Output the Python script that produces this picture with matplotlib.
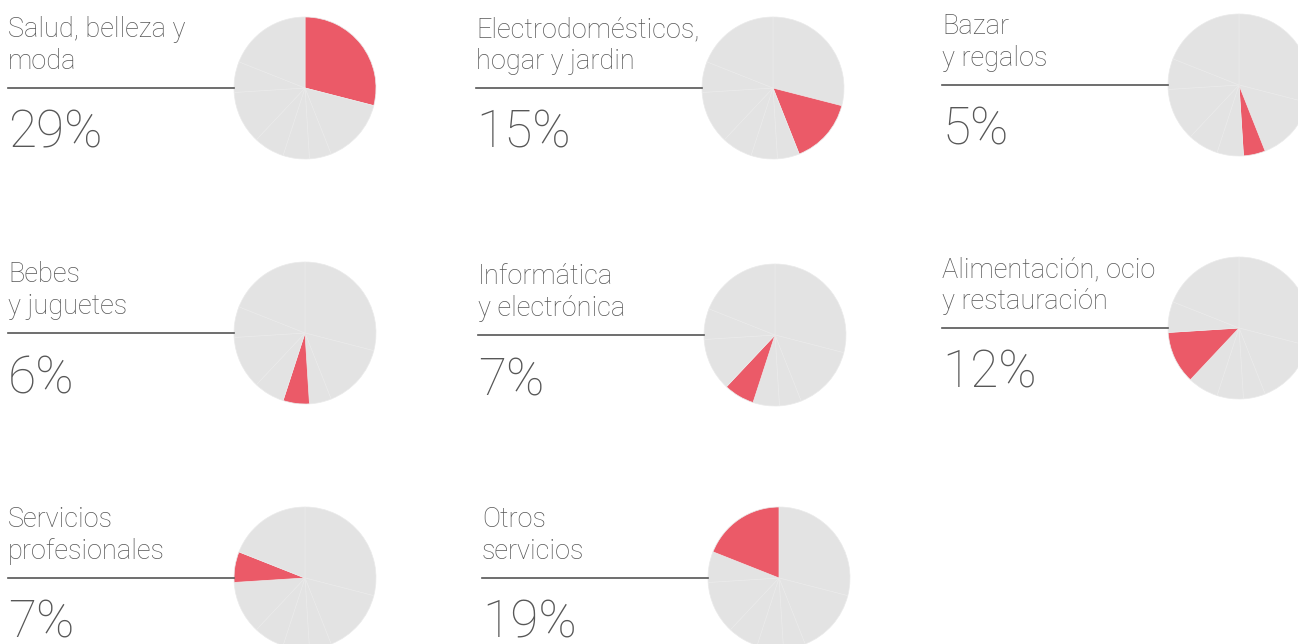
import matplotlib
matplotlib.use("Agg")
import matplotlib.pyplot as plt

# Data
categories = [
    "Salud, belleza y\nmoda",
    "Electrodomésticos,\nhogar y jardin",
    "Bazar\ny regalos",
    "Bebes\ny juguetes",
    "Informática\ny electrónica",
    "Alimentación, ocio\ny restauración",
    "Servicios\nprofesionales",
    "Otros\nservicios",
]
percentages = [29, 15, 5, 6, 7, 12, 7, 19]
pct_labels = ["29%", "15%", "5%", "6%", "7%", "12%", "7%", "19%"]

W, H = 1298, 644
DPI = 100
fig = plt.figure(figsize=(W / DPI, H / DPI), dpi=DPI)
fig.patch.set_facecolor("white")

RED = "#EB5A68"
GRAY = "#E3E3E3"
TXT = "#575757"
FONT = ["Roboto", "DejaVu Sans"]
PFONT = ["Roboto", "DejaVu Sans"]

# layout (pixel): text left x, line y, pie center x
layout = [
    (8, 88, 305), (476, 88, 773), (942, 85, 1239),
    (8, 333, 305), (478, 335, 775), (942, 328, 1239),
    (8, 578, 305), (482, 578, 779),
]
R = 71

def fx(x):
    return x / W

def fy(y):
    return 1 - y / H

for i, (cat, pct, lab) in enumerate(zip(categories, percentages, pct_labels)):
    tx, ly, cx = layout[i]
    ax = fig.add_axes([fx(cx - R), fy(ly + R), 2 * R / W, 2 * R / H])
    colors = [RED if j == i else GRAY for j in range(len(percentages))]
    wedges, _ = ax.pie(percentages, colors=colors, startangle=90, counterclock=False,
                       radius=1, wedgeprops=dict(edgecolor="#EAEAEA", linewidth=0.5))
    for w in wedges:
        w.set_clip_on(False)
    ax.set_xlim(-1, 1)
    ax.set_ylim(-1, 1)
    ax.set_aspect("equal")
    ax.axis("off")

    l1, l2 = cat.split("\n")
    fig.text(fx(tx), fy(ly - 51), l1, fontsize=19.5, color=TXT, family=FONT,
             fontweight="light", va="baseline", ha="left")
    fig.text(fx(tx), fy(ly - 19), l2, fontsize=19.5, color=TXT, family=FONT,
             fontweight="light", va="baseline", ha="left")
    fig.add_artist(plt.Line2D([fx(tx), fx(cx - R)], [fy(ly), fy(ly)],
                              color="#555555", linewidth=1.2, transform=fig.transFigure))
    fig.text(fx(tx), fy(ly + 60), lab, fontsize=37, color=TXT, family=PFONT,
             fontweight="light", va="baseline", ha="left")

fig.savefig("out.png", dpi=DPI, facecolor="white")
